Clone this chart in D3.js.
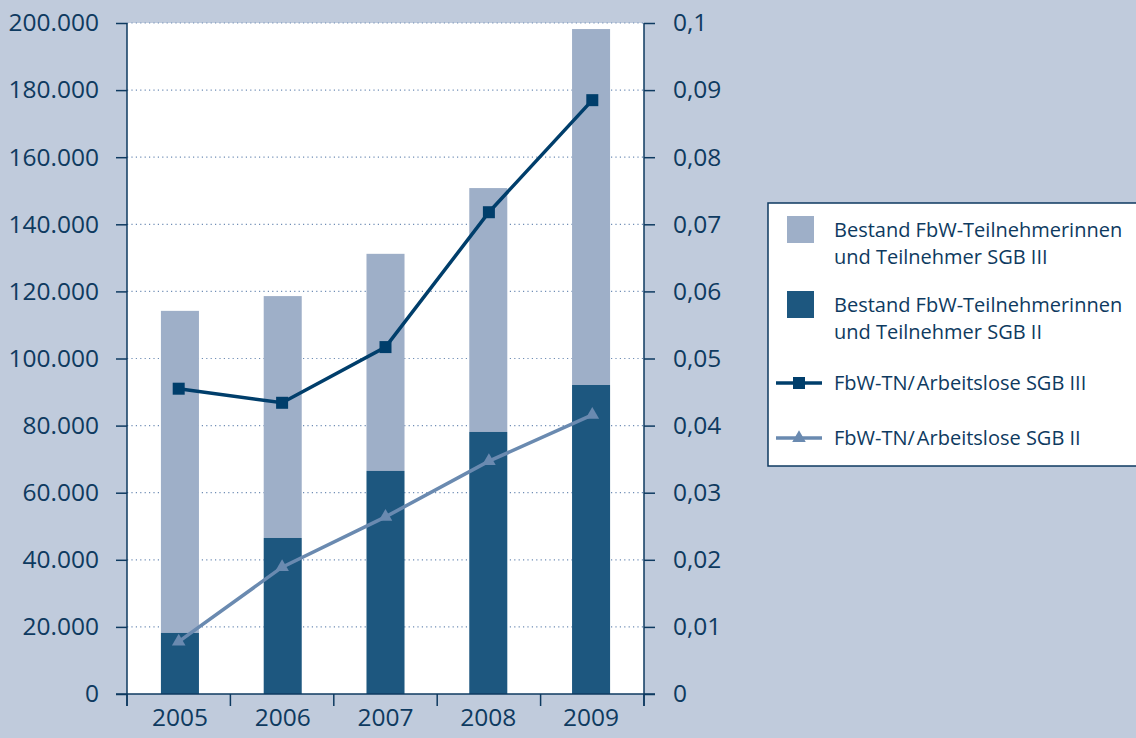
<!DOCTYPE html>
<html><head><meta charset="utf-8">
<script src="https://cdn.jsdelivr.net/npm/d3@7"></script>
<style>
html,body{margin:0;padding:0;background:#c0cbdc;}
svg{display:block;font-family:"Open Sans",sans-serif;}
</style></head>
<body><svg id="c" width="1136" height="738"></svg>
<script>
const years = ["2005","2006","2007","2008","2009"];
const sgb2Bestand = [18200, 46500, 66500, 78100, 92100];
const sgb3Bestand = [96000, 72100, 64700, 72700, 106100]; // stacked on top of SGB II
const quoteSGB3 = [0.0455, 0.0434, 0.0517, 0.0718, 0.0885];
const quoteSGB2 = [0.0078, 0.0189, 0.0264, 0.0347, 0.0416];
const leftTicks = [0,20000,40000,60000,80000,100000,120000,140000,160000,180000,200000];
const rightTicks = [0,0.01,0.02,0.03,0.04,0.05,0.06,0.07,0.08,0.09,0.1];
const legendItems = [
  {type:"rect", color:"#9eafc8", lines:["Bestand FbW-Teilnehmerinnen","und Teilnehmer SGB III"]},
  {type:"rect", color:"#1d577f", lines:["Bestand FbW-Teilnehmerinnen","und Teilnehmer SGB II"]},
  {type:"sq", color:"#003e6b", lines:["FbW-TN/\u200AArbeitslose SGB III"]},
  {type:"tri", color:"#6a8ab0", lines:["FbW-TN/\u200AArbeitslose SGB II"]}
];

const svg = d3.select("#c");
const L = 127, R = 644, T = 23, B = 694;
const textColor = "#0e3a60";
const axisColor = "#0e3a60";

const x = d3.scaleBand().domain(years).range([L, R]).paddingInner(0.63).paddingOuter(0.33);
const xc = d3.scalePoint().domain(years).range([L, R]).padding(0.5);
const yL = d3.scaleLinear().domain([0, 200000]).range([B, T]);
const yR = d3.scaleLinear().domain([0, 0.1]).range([B, T]);

// plot background
svg.append("rect").attr("x", L).attr("y", T).attr("width", R - L).attr("height", B - T).attr("fill", "#fff");

// gridlines
svg.append("g").selectAll("line").data(leftTicks.filter(d => d > 0)).join("line")
  .attr("x1", L).attr("x2", R).attr("y1", d => yL(d)).attr("y2", d => yL(d))
  .attr("stroke", "#6f8db5").attr("stroke-width", 1.2).attr("stroke-dasharray", "1.2,3.2");

// bars
const g = svg.append("g");
years.forEach((yr, i) => {
  const base = sgb2Bestand[i], top = sgb2Bestand[i] + sgb3Bestand[i];
  g.append("rect").attr("x", x(yr)).attr("width", x.bandwidth())
    .attr("y", yL(top)).attr("height", yL(base) - yL(top)).attr("fill", "#9eafc8");
  g.append("rect").attr("x", x(yr)).attr("width", x.bandwidth())
    .attr("y", yL(base)).attr("height", yL(0) - yL(base)).attr("fill", "#1d577f");
});

// lines
const line = d3.line().x((d, i) => xc(years[i])).y(d => yR(d));
svg.append("path").datum(quoteSGB2).attr("d", line).attr("fill", "none")
  .attr("stroke", "#6a8ab0").attr("stroke-width", 3.5);
svg.append("g").selectAll("path").data(quoteSGB2).join("path")
  .attr("d", d3.symbol(d3.symbolTriangle, 80)())
  .attr("transform", (d, i) => `translate(${xc(years[i])},${yR(d)})`)
  .attr("fill", "#6a8ab0");

svg.append("path").datum(quoteSGB3).attr("d", line).attr("fill", "none")
  .attr("stroke", "#003e6b").attr("stroke-width", 3.5);
svg.append("g").selectAll("rect").data(quoteSGB3).join("rect")
  .attr("x", (d, i) => xc(years[i]) - 6).attr("y", d => yR(d) - 6)
  .attr("width", 12).attr("height", 12).attr("fill", "#003e6b");

// axes
const fmtL = d => d3.format(",")(d).replace(/,/g, ".");
const fmtR = d => d === 0 ? "0" : String(+d.toFixed(2)).replace(".", ",");

const axL = svg.append("g").attr("transform", `translate(${L},0)`)
  .call(d3.axisLeft(yL).tickValues(leftTicks).tickFormat(fmtL).tickSize(11).tickPadding(17));
const axR = svg.append("g").attr("transform", `translate(${R},0)`)
  .call(d3.axisRight(yR).tickValues(rightTicks).tickFormat(fmtR).tickSize(11).tickPadding(18));
const axB = svg.append("g").attr("transform", `translate(0,${B})`)
  .call(d3.axisBottom(x).tickSize(0).tickPadding(15));
// category boundary ticks
const bounds = years.map(yv => xc(yv) - xc.step() / 2).concat([R]);
axB.selectAll(".bt").data(bounds).join("line").attr("class", "bt")
  .attr("x1", d => d).attr("x2", d => d).attr("y1", 0).attr("y2", 12)
  .attr("stroke", axisColor).attr("stroke-width", 1.5);

[axL, axR, axB].forEach(a => {
  a.selectAll(".domain").remove();
  a.selectAll(".tick line").attr("stroke", axisColor).attr("stroke-width", 1.5);
  a.selectAll("text").attr("fill", textColor).attr("font-size", 24.5).attr("font-family", "'Open Sans',sans-serif");
});
axB.selectAll(".tick text").attr("dy", "0.71em");
// axis lines
svg.append("line").attr("x1", L).attr("x2", L).attr("y1", T).attr("y2", B + 12).attr("stroke", axisColor).attr("stroke-width", 1.5);
svg.append("line").attr("x1", R).attr("x2", R).attr("y1", T).attr("y2", B + 12).attr("stroke", axisColor).attr("stroke-width", 1.5);
svg.append("line").attr("x1", L - 11).attr("x2", R + 11).attr("y1", B).attr("y2", B).attr("stroke", axisColor).attr("stroke-width", 1.5);

// legend
const lg = svg.append("g");
lg.append("rect").attr("x", 768).attr("y", 203).attr("width", 380).attr("height", 263)
  .attr("fill", "#fff").attr("stroke", "#0e3a60").attr("stroke-width", 1.5);
const rowY = [216, 291, 383, 438];
legendItems.forEach((it, i) => {
  const y0 = rowY[i];
  if (it.type === "rect") {
    lg.append("rect").attr("x", 787).attr("y", y0).attr("width", 27).attr("height", 27).attr("fill", it.color);
    it.lines.forEach((t, j) => lg.append("text").attr("x", 834).attr("y", y0 + 21 + j * 27)
      .attr("font-size", 20).attr("fill", textColor).text(t));
  } else {
    lg.append("line").attr("x1", 776).attr("x2", 822).attr("y1", y0).attr("y2", y0)
      .attr("stroke", it.color).attr("stroke-width", 3.5);
    if (it.type === "sq") lg.append("rect").attr("x", 793).attr("y", y0 - 6).attr("width", 12).attr("height", 12).attr("fill", it.color);
    else lg.append("path").attr("d", d3.symbol(d3.symbolTriangle, 80)()).attr("transform", `translate(799,${y0})`).attr("fill", it.color);
    lg.append("text").attr("x", 834).attr("y", y0 + 7).attr("font-size", 20).attr("fill", textColor).text(it.lines[0]);
  }
});
</script></body></html>
